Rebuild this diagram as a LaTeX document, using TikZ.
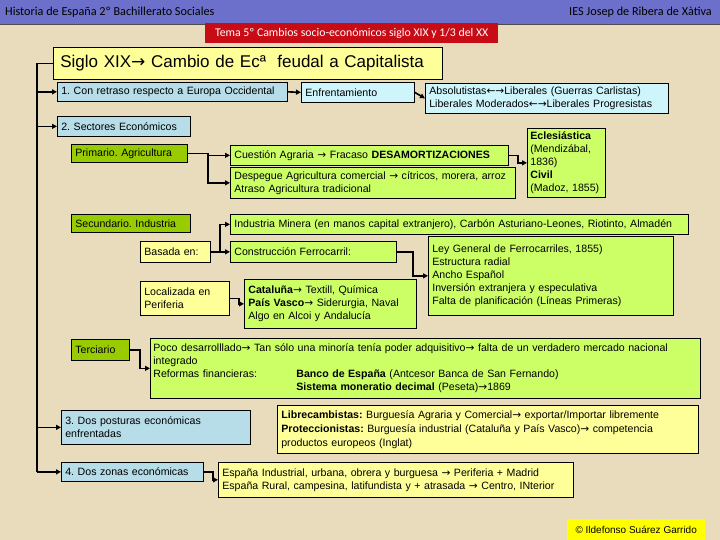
\documentclass[tikz,border=0pt]{standalone}
\usepackage{fontspec}
\setmainfont{Liberation Sans}
\newfontfamily\carl{Carlito}
\newfontfamily\dv{DejaVu Sans}
\usetikzlibrary{arrows.meta}
\definecolor{bgc}{RGB}{233,220,188}
\definecolor{hdr}{RGB}{108,112,202}
\definecolor{tema}{RGB}{200,12,22}
\definecolor{cblue}{RGB}{183,221,232}
\definecolor{ccyan}{RGB}{206,244,252}
\definecolor{cgreen}{RGB}{153,204,0}
\definecolor{cyg}{RGB}{204,255,102}
\definecolor{cyel}{RGB}{255,255,153}
\definecolor{cpy}{RGB}{255,255,0}
\newcommand\fs{\fontsize{10.6}{13}\selectfont}
\newcommand\RA{{\dv→}}
\newcommand\LA{{\dv←}}
\frenchspacing
\begin{document}
\begin{tikzpicture}[x=1pt,y=-1pt,
  bx/.style={draw=black, line width=0.7pt, anchor=north west, inner xsep=4pt, inner ysep=0pt, align=left, font=\fs},
  ln/.style={line width=1.6pt},
  arr/.style={line width=1.6pt, -{Triangle[length=5pt,width=5pt]}}]
\useasboundingbox (0,0) rectangle (720,540);
\fill[bgc] (0,0) rectangle (720,540);
\fill[hdr] (0,0) rectangle (720,24);
\draw[line width=0.8pt, black!70] (0,24) -- (720,24);
\node[anchor=west, inner sep=0pt, font=\carl\fontsize{12.2}{13}\selectfont] (h1) at (5,12) {Historia de España 2º Bachillerato Sociales};
\node[anchor=east, inner sep=0pt, font=\carl\fontsize{12.2}{13}\selectfont] (h2) at (712,12) {IES Josep de Ribera de Xàtiva};
\node[anchor=north west, fill=tema, minimum width=293pt, minimum height=20pt, inner sep=0pt, text=white, font=\carl\fontsize{11.8}{12}\selectfont] (tema) at (205,23) {Tema 5º Cambios socio-económicos siglo XIX y 1/3 del XX};

% title
\node[bx, fill=cyel, minimum width=389pt, minimum height=32pt, text width=375pt, inner xsep=7pt, font=\fontsize{17}{18}\selectfont] (title) at (53,47) {Siglo XIX\RA{} Cambio de Ecª\ \ feudal a Capitalista};

% row 1
\node[bx, fill=cblue, minimum width=230pt, minimum height=19pt, text width=222pt] (b1) at (57,82) {1. Con retraso respecto a Europa Occidental};
\node[bx, fill=ccyan, minimum width=113pt, minimum height=20pt, text width=105pt] (enf) at (301,82) {Enfrentamiento};
\node[bx, fill=ccyan, minimum width=243pt, minimum height=30pt, text width=235pt] (abs) at (425,83) {Absolutistas\LA\RA Liberales (Guerras Carlistas)\\Liberales Moderados\LA\RA Liberales Progresistas};

% sectors
\node[bx, fill=cblue, minimum width=133pt, minimum height=20pt, text width=125pt] (b2) at (57,116) {2. Sectores Económicos};
\node[bx, fill=cgreen, minimum width=116pt, minimum height=18pt, text width=108pt] (prim) at (71,144) {Primario. Agricultura};
\node[bx, fill=cyg, minimum width=278pt, minimum height=20pt, text width=270pt] (cues) at (230,145) {Cuestión Agraria \RA{} Fracaso \textbf{DESAMORTIZACIONES}};
\node[bx, fill=cyg, minimum width=285pt, minimum height=31pt, text width=277pt] (desp) at (230,167) {Despegue Agricultura comercial \RA{} cítricos, morera, arroz\\Atraso Agricultura tradicional};
\node[bx, fill=cyg, minimum width=78pt, minimum height=69pt, text width=72pt, inner xsep=3pt] (ecle) at (527,128) {\textbf{Eclesiástica}\\(Mendizábal,\\1836)\\\textbf{Civil}\\(Madoz, 1855)};

\node[bx, fill=cgreen, minimum width=119pt, minimum height=18pt, text width=111pt] (sec) at (71,214) {Secundario. Industria};
\node[bx, fill=cyg, minimum width=458pt, minimum height=20pt, text width=450pt] (mine) at (230,214) {Industria Minera (en manos capital extranjero), Carbón Asturiano-Leones, Riotinto, Almadén};
\node[bx, fill=cyel, minimum width=70pt, minimum height=21pt, text width=62pt] (bas) at (140,241) {Basada en:};
\node[bx, fill=cyg, minimum width=166pt, minimum height=21pt, text width=158pt] (cons) at (230,241) {Construcción Ferrocarril:};
\node[bx, fill=cyg, minimum width=245pt, minimum height=79pt, text width=237pt] (ley) at (428,236) {Ley General de Ferrocarriles, 1855)\\Estructura radial\\Ancho Español\\Inversión extranjera y especulativa\\Falta de planificación (Líneas Primeras)};
\node[bx, fill=cyel, minimum width=89pt, minimum height=34pt, text width=81pt] (loc) at (140,281) {Localizada en\\Periferia};
\node[bx, fill=cyg, minimum width=172pt, minimum height=49pt, text width=164pt] (cat) at (244,279) {\textbf{Cataluña}\RA{} Textill, Química\\\textbf{País Vasco}\RA{} Siderurgia, Naval\\Algo en Alcoi y Andalucía};

\node[bx, fill=cgreen, minimum width=58pt, minimum height=21pt, text width=50pt] (terc) at (71,339) {Terciario};
\node[bx, fill=cyg, minimum width=550pt, minimum height=60pt, text width=544pt, inner xsep=3pt] (poco) at (150,338) {Poco desarrolllado\RA{} Tan sólo una minoría tenía poder adquisitivo\RA{} falta de un verdadero mercado nacional\\integrado\\\makebox[143pt][l]{Reformas financieras:}\textbf{Banco de España} (Antcesor Banca de San Fernando)\\\hspace*{143pt}\textbf{Sistema moneratio decimal} (Peseta)\RA 1869};

\node[bx, fill=cblue, minimum width=189pt, minimum height=34pt, text width=181pt] (b3) at (61,410) {3. Dos posturas económicas\\enfrentadas};
\node[bx, fill=cyel, minimum width=421pt, minimum height=48pt, text width=413pt, font=\fontsize{10.6}{14}\selectfont] (libre) at (277,405) {\textbf{Librecambistas:} Burguesía Agraria y Comercial\RA{} exportar/Importar libremente\\\textbf{Proteccionistas:} Burguesía industrial (Cataluña y País Vasco)\RA{} competencia\\productos europeos (Inglat)};
\node[bx, fill=cblue, minimum width=142pt, minimum height=19pt, text width=134pt] (b4) at (61,462) {4. Dos zonas económicas};
\node[bx, fill=cyel, minimum width=355pt, minimum height=35pt, text width=347pt] (espa) at (218,462) {España Industrial, urbana, obrera y burguesa \RA{} Periferia + Madrid\\España Rural, campesina, latifundista y + atrasada \RA{} Centro, INterior};

\node[anchor=north west, fill=cpy, minimum width=138pt, minimum height=21pt, inner sep=0pt, font=\fontsize{10}{11}\selectfont] (copy) at (567,519) {© Ildefonso Suárez Garrido};

% connectors
\draw[ln] (title.west) -- ++(-16,0) coordinate (tr) -- (tr |- b4.west);
\draw[arr] (tr |- b1.west) -- (b1.west);
\draw[arr] (tr |- b2.west) -- (b2.west);
\draw[arr] (tr |- b3.west) -- (b3.west);
\draw[arr] (tr |- b4.west) -- (b4.west);
\draw[arr] (b1.east) -- (enf.west);
\draw[arr] (enf.east) -- (abs.west);
\draw[ln] (prim.east) -- ++(20,0) coordinate (pb);
\draw[arr] (pb) |- (cues.west);
\draw[arr] (pb) |- (desp.west);
\draw[arr] (cues.east) -- ++(9,0) |- (ecle.west);
\draw[ln] (bas.east) -- ++(9,0) coordinate (bb);
\draw[arr] (bb) |- (mine.west);
\draw[arr] (bb) -- (cons.west);
\draw[arr] (cons.east) -- ++(16,0) |- (ley.west);
\draw[arr] (loc.east) -- ++(9,0) |- (cat.west);
\draw[arr] (terc.east) -- ++(10,0) |- (poco.west);
\draw[arr] (b4.east) -- ++(9,0) |- (espa.west);
\end{tikzpicture}
\end{document}
